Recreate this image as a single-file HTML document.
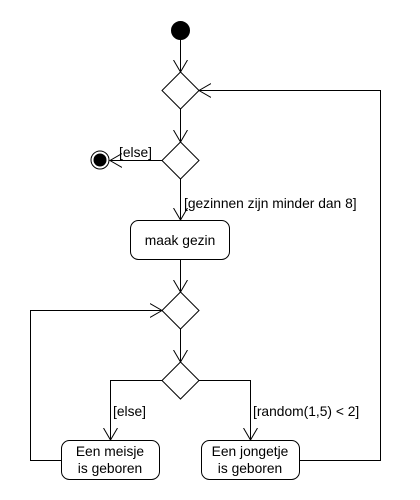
<!DOCTYPE html>
<html><head><style>body{margin:0;background:#fff}svg{display:block}text{font-family:"Liberation Sans",sans-serif;font-size:13.8px;fill:#000}</style></head><body>
<svg width="420" height="500" viewBox="0 0 420 500">
<defs><marker id="a" markerWidth="14" markerHeight="16" refX="12" refY="8" orient="auto" markerUnits="userSpaceOnUse"><path d="M0,1 L12,8 L0,15" fill="none" stroke="#000"/></marker></defs>
<g stroke="#000" fill="none" stroke-width="1">
<circle cx="180.5" cy="30.5" r="9" fill="#000"/>
<line x1="180.5" y1="39" x2="180.5" y2="72" marker-end="url(#a)"/>
<path d="M180.5,72 L199,90.5 L180.5,109 L162,90.5Z" fill="#fff"/>
<line x1="180.5" y1="109" x2="180.5" y2="142" marker-end="url(#a)"/>
<path d="M180.5,142 L199,160.5 L180.5,179 L162,160.5Z" fill="#fff"/>
<line x1="162" y1="160.5" x2="110" y2="160.5" marker-end="url(#a)"/>
<circle cx="100" cy="160" r="9" fill="#fff"/>
<circle cx="100" cy="160" r="6" fill="#000"/>
<line x1="180.5" y1="179" x2="180.5" y2="220" marker-end="url(#a)"/>
<rect x="130.5" y="220.5" width="99" height="39" rx="8" fill="#fff"/>
<line x1="180.5" y1="259" x2="180.5" y2="292" marker-end="url(#a)"/>
<path d="M180.5,292 L199,310.5 L180.5,329 L162,310.5Z" fill="#fff"/>
<line x1="180.5" y1="329" x2="180.5" y2="362" marker-end="url(#a)"/>
<path d="M180.5,362 L199,380.5 L180.5,399 L162,380.5Z" fill="#fff"/>
<polyline points="162,380.5 110.5,380.5 110.5,440" marker-end="url(#a)"/>
<polyline points="199,380.5 250.5,380.5 250.5,440" marker-end="url(#a)"/>
<rect x="61.5" y="440.5" width="98" height="39" rx="8" fill="#fff"/>
<rect x="201.5" y="440.5" width="98" height="39" rx="8" fill="#fff"/>
<polyline points="61.5,460.5 30.5,460.5 30.5,310.5 162,310.5" marker-end="url(#a)"/>
<polyline points="299.5,460.5 380.5,460.5 380.5,90.5 199,90.5" marker-end="url(#a)"/>
</g>
<text x="119" y="157">[else]</text>
<text x="184" y="208">[gezinnen zijn minder dan 8]</text>
<text x="180" y="245" text-anchor="middle">maak gezin</text>
<text x="113" y="416">[else]</text>
<text x="253" y="416">[random(1,5) &lt; 2]</text>
<text x="110" y="456" text-anchor="middle">Een meisje</text>
<text x="110" y="473" text-anchor="middle">is geboren</text>
<text x="250" y="456" text-anchor="middle">Een jongetje</text>
<text x="250" y="473" text-anchor="middle">is geboren</text>
</svg>
</body></html>
